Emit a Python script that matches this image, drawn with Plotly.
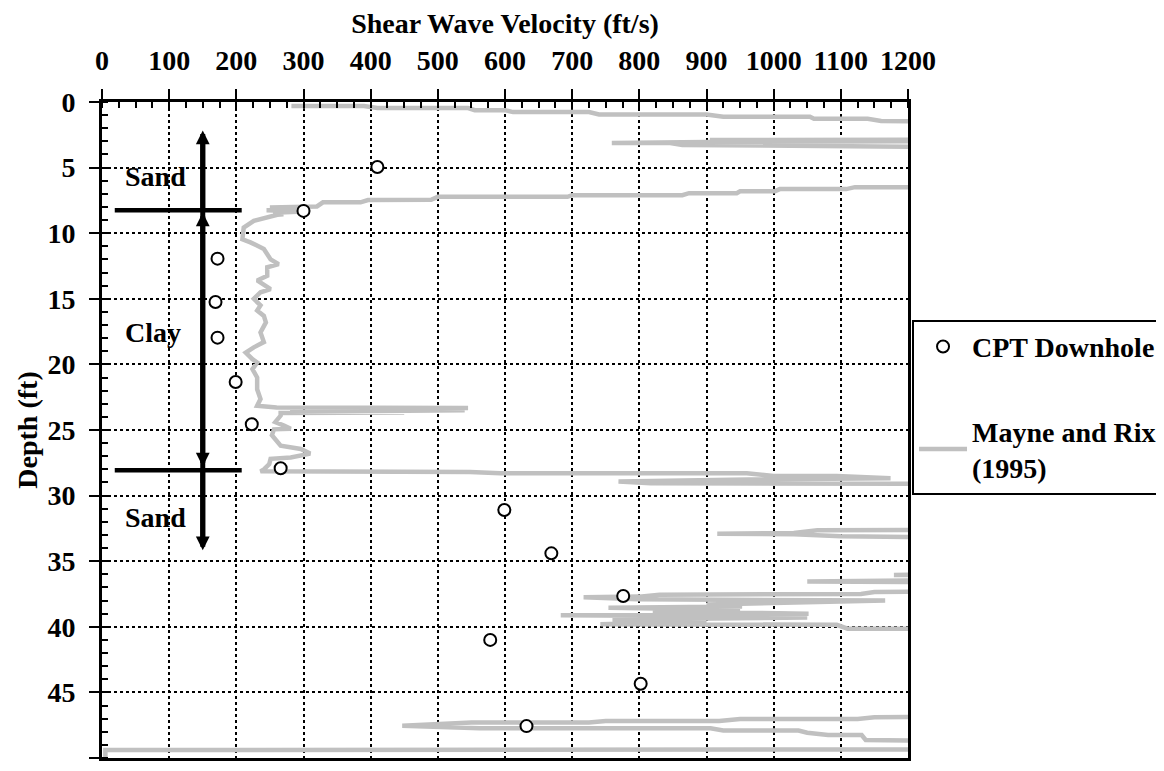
import plotly.graph_objects as go

# CPT downhole shear-wave velocity (ft/s) vs depth (ft)
cpt_vs = [410, 300, 172, 169, 172, 199, 223, 266, 599, 669, 776, 578, 802, 632]
cpt_depth = [4.95, 8.3, 11.94, 15.24, 17.96, 21.34, 24.56, 27.92, 31.1, 34.4, 37.65, 41.0, 44.34, 47.57]

# Mayne and Rix (1995) CPT-based profile (values beyond 1200 run off the chart)
mr_vs = [282, 390, 410, 545, 555, 600, 612, 725, 740, 900, 925, 1054, 1060, 1140, 1160, 1260, 1500, 1800, 1500,
         1250, 905, 1300, 900, 759, 846, 864, 1250, 950, 1300, 1800, 2000, 1600,
         1300, 1121, 1108, 1009, 1002, 950, 945, 874, 864, 700, 693, 500, 490, 396, 385, 329, 320,
         250, 310, 245, 300, 255, 270,
         261, 226, 211, 209, 221, 241, 251, 263, 246, 246, 231, 251, 236, 226, 236, 231, 241, 244, 236, 241,
         226, 214, 224, 231, 224, 231, 231, 236, 231,
         260, 545, 300, 540, 280, 450, 266,
         266, 258, 271, 281, 256, 253, 266, 296, 310, 281, 251, 249, 241, 236,
         236, 548, 593, 960, 1000, 1094, 1174, 1000, 817, 769, 817, 1300, 1800, 1600, 1300,
         1065, 1030, 916, 1030, 1100, 1300, 1700, 1400,
         1179, 1300, 1500, 1050, 1300, 1500, 1300,
         1150, 1130, 830, 800, 717, 797, 1166, 900, 953, 754, 900, 950, 820, 1052, 683, 807, 1050, 760, 900,
         742, 1094, 1110, 1300, 1800, 2000, 1600,
         1300, 1150, 1125, 950, 919, 750, 725, 550, 447, 562, 906, 925, 1037, 1050, 1081, 1131, 1137, 1300,
         1700, 1300, 5, 5]
mr_depth = [0.31, 0.31, 0.46, 0.46, 0.62, 0.62, 0.77, 0.77, 0.95, 0.95, 1.12, 1.12, 1.28, 1.28, 1.44, 1.46, 1.6, 2.2, 2.8,
            2.87, 2.9, 2.97, 3.05, 3.13, 3.13, 3.28, 3.3, 3.37, 3.44, 4.5, 5.5, 6.3,
            6.49, 6.49, 6.64, 6.64, 6.8, 6.8, 6.95, 6.95, 7.1, 7.1, 7.23, 7.23, 7.45, 7.47, 7.65, 7.65, 7.96,
            8.05, 8.15, 8.25, 8.35, 8.45, 8.55,
            8.6, 9.06, 9.57, 10.46, 10.7, 11.2, 12.0, 12.36, 12.6, 13.25, 13.6, 14.26, 14.5, 15.0, 15.5, 15.9, 16.3, 16.8, 17.56, 18.3,
            18.7, 19.1, 19.6, 19.85, 20.36, 21.0, 21.9, 22.64, 23.15,
            23.28, 23.32, 23.42, 23.5, 23.6, 23.66, 23.7,
            23.9, 24.4, 24.67, 24.9, 24.95, 25.4, 26.2, 26.45, 26.8, 27.1, 27.2, 27.6, 28.0, 28.1,
            28.15, 28.2, 28.3, 28.3, 28.5, 28.5, 28.68, 28.75, 28.9, 28.93, 29.06, 29.1, 30.5, 32.0, 32.6,
            32.65, 32.85, 32.9, 32.95, 33.1, 33.2, 34.5, 35.9,
            36.05, 36.1, 36.3, 36.55, 36.6, 37.0, 37.3,
            37.35, 37.5, 37.55, 37.7, 37.75, 37.9, 38.0, 38.3, 38.45, 38.54, 38.6, 38.7, 38.85, 39.0, 39.12, 39.15, 39.3, 39.45, 39.6,
            39.8, 39.85, 40.14, 40.15, 42.0, 44.0, 46.5,
            46.85, 46.9, 47.03, 47.03, 47.18, 47.18, 47.3, 47.3, 47.54, 47.74, 47.74, 47.9, 47.9, 48.07, 48.25, 48.25, 48.63, 48.76,
            49.0, 49.35, 49.39, 51.0]

# Soil layer annotations
layer_names = ["Sand", "Clay", "Sand"]
layer_label_vs = [79, 76, 80]
layer_label_depth = [5.66, 17.6, 31.65]
boundary_depths = [8.26, 28.07]
boundary_vs_range = [19, 208]
arrow_vs = 150
arrow_top_tip = 2.17
arrow_bottom_tip = 34.17

FONT = "Liberation Serif, Times New Roman, serif"
GRAY = "#c0c0c0"

fig = go.Figure()
fig.add_trace(go.Scatter(
    x=mr_vs, y=mr_depth, mode="lines", name="Mayne and Rix<br>(1995)",
    line=dict(color=GRAY, width=4.5), legendrank=2, legendgroup="b"))
fig.add_trace(go.Scatter(
    x=cpt_vs, y=cpt_depth, mode="markers", name="CPT Downhole",
    marker=dict(symbol="circle", size=12, color="white", line=dict(color="black", width=2)),
    legendrank=1, legendgroup="a"))

for d in boundary_depths:
    fig.add_shape(type="line", xref="x", yref="y", x0=boundary_vs_range[0], x1=boundary_vs_range[1],
                  y0=d, y1=d, line=dict(color="black", width=4.5), layer="above")
# arrow shaft
fig.add_shape(type="line", xref="x", yref="y", x0=arrow_vs, x1=arrow_vs,
              y0=arrow_top_tip + 0.6, y1=arrow_bottom_tip - 0.6,
              line=dict(color="black", width=5), layer="above")

arrow_common = dict(xref="x", yref="y", axref="x", ayref="y", text="", showarrow=True,
                    arrowcolor="black", arrowwidth=5, arrowhead=2, arrowsize=0.55)
fig.add_annotation(x=arrow_vs, y=arrow_top_tip, ax=arrow_vs, ay=boundary_depths[0], **arrow_common)
fig.add_annotation(x=arrow_vs, y=boundary_depths[0] + 0.17, ax=arrow_vs, ay=boundary_depths[1] - 0.17,
                   arrowside="end+start", startarrowhead=2, startarrowsize=0.55, **arrow_common)
fig.add_annotation(x=arrow_vs, y=arrow_bottom_tip, ax=arrow_vs, ay=boundary_depths[1], **arrow_common)

for name, vx, dy in zip(layer_names, layer_label_vs, layer_label_depth):
    fig.add_annotation(x=vx, y=dy, xref="x", yref="y", text=name, showarrow=False,
                       font=dict(family=FONT, size=28, color="black", weight="bold"))

axis_font = dict(family=FONT, size=28, color="black", weight="bold")
fig.update_xaxes(
    side="top", range=[0, 1200], dtick=100, tick0=0,
    showline=True, linewidth=3, linecolor="black", mirror=True,
    ticks="outside", ticklen=10, tickwidth=2, tickcolor="black",
    ticklabelstandoff=8,
    showgrid=True, gridcolor="black", griddash="dot", gridwidth=1.5,
    zeroline=False,
    minor=dict(dtick=25, ticks="inside", ticklen=6, tickwidth=2, tickcolor="black", showgrid=False),
    tickfont=axis_font,
    title=dict(text="Shear Wave Velocity (ft/s)", font=axis_font, standoff=20),
)
fig.update_yaxes(
    range=[50, 0], dtick=5, tick0=0,
    showline=True, linewidth=3, linecolor="black", mirror=True,
    ticks="outside", ticklen=10, tickwidth=2, tickcolor="black",
    ticklabelstandoff=8,
    showgrid=True, gridcolor="black", griddash="dot", gridwidth=1.5,
    zeroline=False,
    minor=dict(dtick=1, ticks="inside", ticklen=6, tickwidth=2, tickcolor="black", showgrid=False),
    tickfont=axis_font,
    title=dict(text="Depth (ft)", font=axis_font, standoff=2),
)

fig.update_layout(
    width=1156, height=763,
    margin=dict(l=94, r=256, t=94, b=13, autoexpand=False),
    paper_bgcolor="white", plot_bgcolor="white",
    font=dict(family=FONT, size=28, color="black", weight="bold"),
    showlegend=True,
    legend=dict(x=1.005, y=0.668, xanchor="left", yanchor="top",
                bordercolor="black", borderwidth=2, bgcolor="white",
                font=dict(family=FONT, size=28, color="black", weight="bold"),
                tracegroupgap=45, itemwidth=48),
)

fig.write_html("out.html")
